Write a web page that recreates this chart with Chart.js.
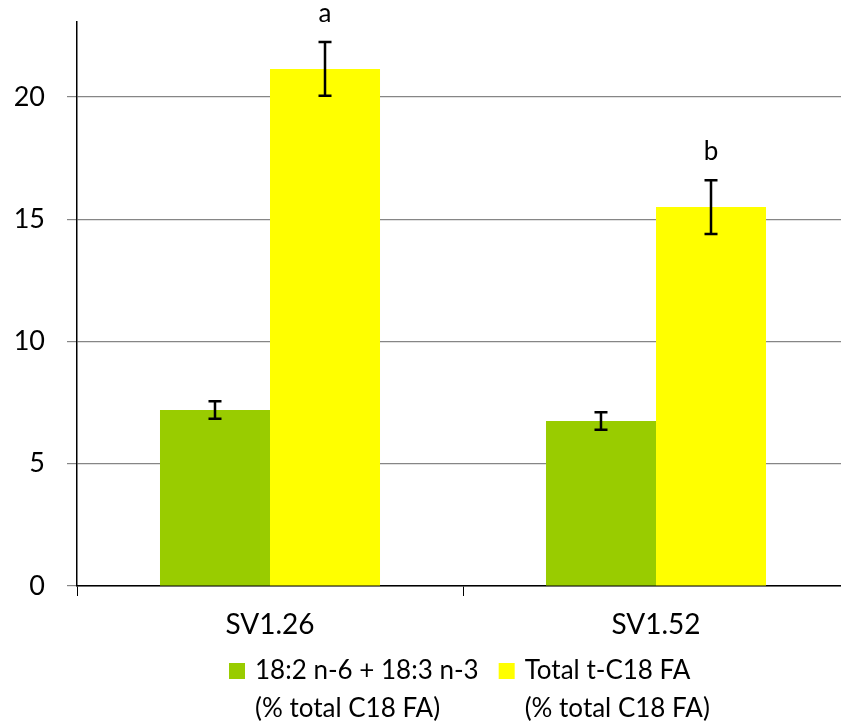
<!DOCTYPE html>
<html>
<head>
<meta charset="utf-8">
<script src="https://cdn.jsdelivr.net/npm/chart.js@4.4.0/dist/chart.umd.min.js"></script>
<style>
  html, body { margin: 0; padding: 0; background: #fff; overflow: hidden; }
  #wrap { width: 841px; height: 722px; position: relative; overflow: hidden; }
  #myCanvas { display: block; }
</style>
</head>
<body>
<div id="wrap"><canvas id="myCanvas" width="849" height="722"></canvas></div>
<script>
// data
var categories = ['SV1.26', 'SV1.52'];
var seriesNames = [
	['18:2 n-6 + 18:3 n-3', '(% total C18 FA)'],
	['Total t-C18 FA', '(% total C18 FA)']
];
var pufa = [7.2, 6.75];
var pufaErr = [0.36, 0.36];
var transFA = [21.15, 15.5];
var transErr = [1.1, 1.1];
var transLetters = ['a', 'b'];
var yTicks = [0, 5, 10, 15, 20];

var FONT = 'Lato, "Open Sans", sans-serif';

var errorBars = {
	id: 'errorBars',
	afterDatasetsDraw: function(chart){
		var ctx = chart.ctx;
		var y = chart.scales.y;
		var errs = [pufaErr, transErr];
		ctx.save();
		ctx.strokeStyle = '#000';
		ctx.lineWidth = 2.5;
		for (var d = 0; d < chart.data.datasets.length; d++) {
			var meta = chart.getDatasetMeta(d);
			var vals = chart.data.datasets[d].data;
			for (var i = 0; i < meta.data.length; i++) {
				var x = meta.data[i].x;
				var top = y.getPixelForValue(vals[i] + errs[d][i]);
				var bot = y.getPixelForValue(vals[i] - errs[d][i]);
				ctx.beginPath();
				ctx.moveTo(x, top); ctx.lineTo(x, bot);
				ctx.moveTo(x - 6.5, top); ctx.lineTo(x + 6.5, top);
				ctx.moveTo(x - 6.5, bot); ctx.lineTo(x + 6.5, bot);
				ctx.stroke();
				if (d === 1) {
					ctx.fillStyle = '#000';
					ctx.font = '26px ' + FONT;
					ctx.textAlign = 'center';
					ctx.textBaseline = 'alphabetic';
					ctx.fillText(transLetters[i], x, top - 20);
				}
			}
		}
		ctx.restore();
	}
};

var bottomLegend = {
	id: 'bottomLegend',
	afterDraw: function(chart){
		var ctx = chart.ctx;
		var colors = chart.data.datasets.map(function(ds){ return ds.backgroundColor; });
		ctx.save();
		ctx.font = '26px ' + FONT;
		var box = 16, gap = 10, between = 20;
		var x = 229;
		var base1 = 679, base2 = 717;
		ctx.textAlign = 'left';
		ctx.textBaseline = 'alphabetic';
		for (var k = 0; k < seriesNames.length; k++) {
			ctx.fillStyle = colors[k];
			ctx.fillRect(x, base1 - 16, box, box);
			ctx.fillStyle = '#000';
			ctx.fillText(seriesNames[k][0], x + box + gap, base1);
			ctx.fillText(seriesNames[k][1], x + box + gap, base2);
			x += box + gap + ctx.measureText(seriesNames[k][0]).width + between;
		}
		ctx.restore();
	}
};

var chartdata = {
	labels: categories,
	datasets: [
		{
			label: seriesNames[0].join(' '),
			backgroundColor: '#99CC00',
			data: pufa
		},
		{
			label: seriesNames[1].join(' '),
			backgroundColor: '#FFFF00',
			data: transFA
		}
	]
};

var ctx = document.getElementById('myCanvas');

var barGraph = new Chart(ctx, {
	type: 'bar',
	data: chartdata,
	options: {
		responsive: false,
		animation: false,
		layout: { padding: { top: 22, right: 0, left: 0, bottom: 0 } },
		datasets: { bar: { categoryPercentage: 0.57, barPercentage: 1.0 } },
		plugins: {
			legend: { display: false },
			tooltip: { enabled: false }
		},
		scales: {
			x: {
				grid: {
					offset: true,
					drawOnChartArea: false,
					tickLength: 10,
					color: '#000'
				},
				border: { color: '#000', width: 1.5 },
				ticks: {
					color: '#000',
					padding: 12,
					font: { family: FONT, size: 28 }
				},
				afterFit: function(s){ s.height = 136; s.paddingLeft = 0; s.paddingRight = 0; }
			},
			y: {
				min: 0,
				max: 23.07,
				afterBuildTicks: function(s){
					s.ticks = yTicks.map(function(v){ return { value: v }; });
				},
				grid: {
					color: '#868686',
					lineWidth: 1.2,
					tickLength: 10
				},
				border: { color: '#000', width: 1.5 },
				ticks: {
					color: '#000',
					padding: 22,
					font: { family: FONT, size: 27 }
				},
				afterFit: function(s){ s.width = 77; s.paddingTop = 0; s.paddingBottom = 0; }
			}
		}
	},
	plugins: [errorBars, bottomLegend]
});
</script>
</body>
</html>
